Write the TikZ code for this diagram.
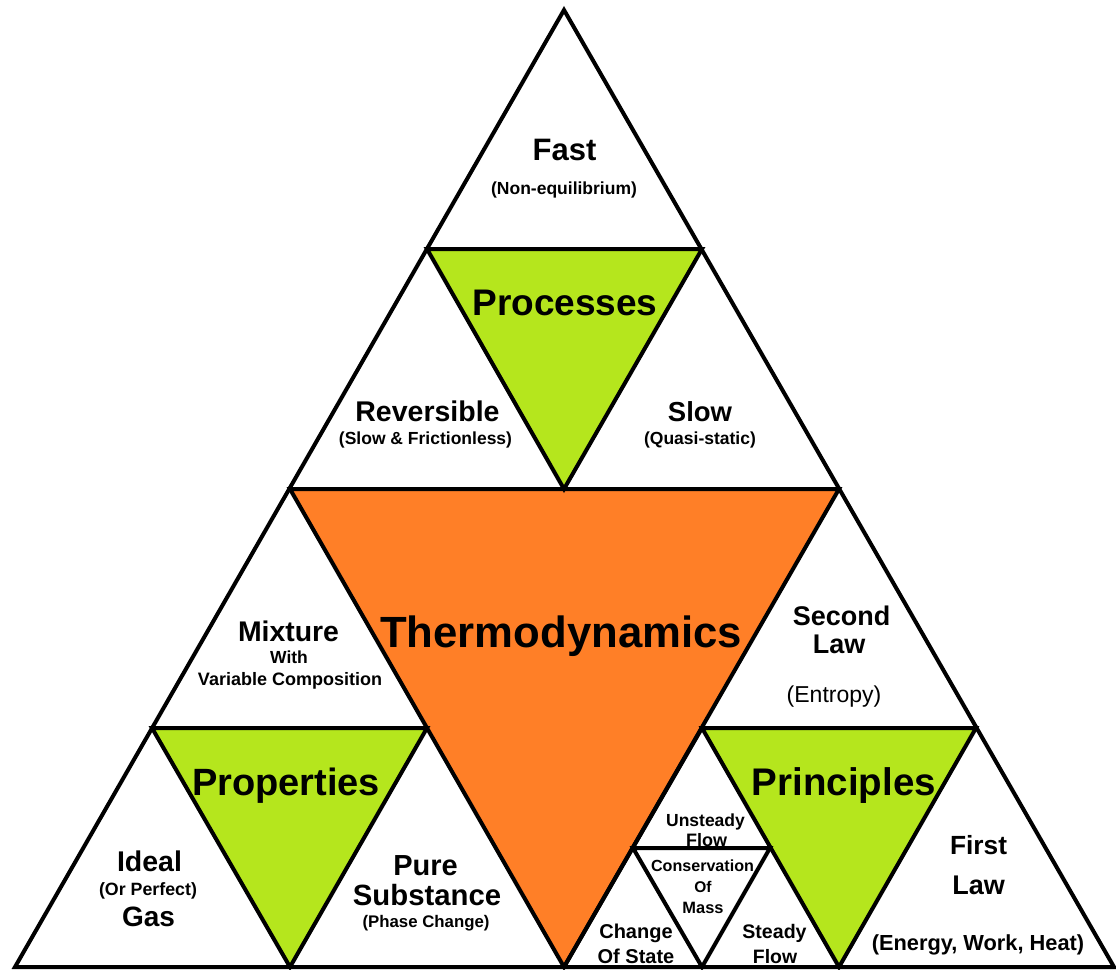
\documentclass[tikz,border=0pt]{standalone}
\usepackage{fontspec}
\setmainfont{Liberation Sans}
\newcommand\myfs[1]{\fontsize{#1}{#1}\selectfont}
\definecolor{pgreen}{HTML}{B5E61D}
\definecolor{porange}{HTML}{FF7F27}
\begin{document}
\begin{tikzpicture}[x=1pt,y=-1pt,line width=4pt,line join=miter,
  txt/.style={inner sep=0pt,anchor=base,font=\bfseries\myfs{#1}},
  rtxt/.style={inner sep=0pt,anchor=base,font=\myfs{#1}}]
\path[use as bounding box] (0,0) rectangle (1116,969);
\fill[white] (0,0) rectangle (1116,969);
% vertices
\coordinate (A) at (564,10);
\coordinate (BL) at (15,967);
\coordinate (BR) at (1114,967);
\coordinate (L1) at (290,489);
\coordinate (R1) at (839,489);
\coordinate (B1) at (564,967);
\coordinate (TG1) at (427,249);
\coordinate (TG2) at (702,249);
\coordinate (LG1) at (152,728);
\coordinate (LG2) at (427,728);
\coordinate (LG3) at (290,967);
\coordinate (RG1) at (702,728);
\coordinate (RG2) at (976,728);
\coordinate (RG3) at (839,967);
\coordinate (SM1) at (633,848);
\coordinate (SM2) at (770,848);
\coordinate (SM3) at (702,967);
% fills
\fill[pgreen] (TG1)--(TG2)--(B1|-L1)--cycle;
\fill[pgreen] (LG1)--(LG2)--(LG3)--cycle;
\fill[pgreen] (RG1)--(RG2)--(RG3)--cycle;
\fill[porange] (L1)--(R1)--(B1)--cycle;
% outlines
\draw (A)--(BL)--(BR)--cycle;
\draw (L1)--(R1)--(B1)--cycle;
\draw (TG1)--(TG2)--(B1|-L1)--cycle;
\draw (LG1)--(LG2)--(LG3)--cycle;
\draw (RG1)--(RG2)--(RG3)--cycle;
\draw (RG1)--(B1);
\draw (SM1)--(SM2)--(SM3)--cycle;
% texts: top
\node[txt=31] (fast) at (564.5,160) {Fast};
\node[txt=17.5] (noneq) at (564,194) {(Non-equilibrium)};
\node[txt=37] (proc) at (565,315) {Processes};
\node[txt=28.5] (rev) at (427.5,421) {Reversible};
\node[txt=17.5] (revs) at (425.5,444) {(Slow \& Frictionless)};
\node[txt=27.5] (slow) at (700,421) {Slow};
\node[txt=17.5] (slows) at (700,444) {(Quasi-static)};
% center
\node[txt=43.7] (thermo) at (561,647) {Thermodynamics};
% left
\node[txt=28.4] (mix) at (288.5,641) {Mixture};
\node[txt=17.5] (with) at (289,663) {With};
\node[txt=18] (varc) at (290,685) {Variable Composition};
\node[txt=38] (prop) at (286,795) {Properties};
\node[txt=28.5] (ideal) at (149.5,871) {Ideal};
\node[txt=17.8] (orp) at (148,895) {(Or Perfect)};
\node[txt=28] (gas) at (148.5,926) {Gas};
\node[txt=29] (pure) at (425.5,875) {Pure};
\node[txt=29.3] (subst) at (427,905) {Substance};
\node[txt=16.8] (phase) at (426,927) {(Phase Change)};
% right
\node[txt=27] (second) at (841.5,625) {Second};
\node[txt=27] (law2) at (839,653) {Law};
\node[rtxt=23] (entropy) at (834,702) {(Entropy)};
\node[txt=38.5] (princ) at (844,795) {Principles};
\node[txt=26.3] (first) at (978.5,854) {First};
\node[txt=27] (law1) at (978.5,894) {Law};
\node[txt=21.8] (energy) at (978,950) {(Energy, Work, Heat)};
% small triangle
\node[txt=17.5] (unst) at (705.5,826) {Unsteady};
\node[txt=18] (unstf) at (706.5,846) {Flow};
\node[txt=16.1] (cons) at (702.5,871) {Conservation};
\node[txt=15.5] (consof) at (703,892) {Of};
\node[txt=16.4] (consm) at (703,913) {Mass};
\node[txt=20] (chg) at (636,938) {Change};
\node[txt=20] (chgs) at (636,963) {Of State};
\node[txt=19.6] (stdy) at (774.5,938) {Steady};
\node[txt=19.4] (stdyf) at (775,963) {Flow};
\end{tikzpicture}
\end{document}
